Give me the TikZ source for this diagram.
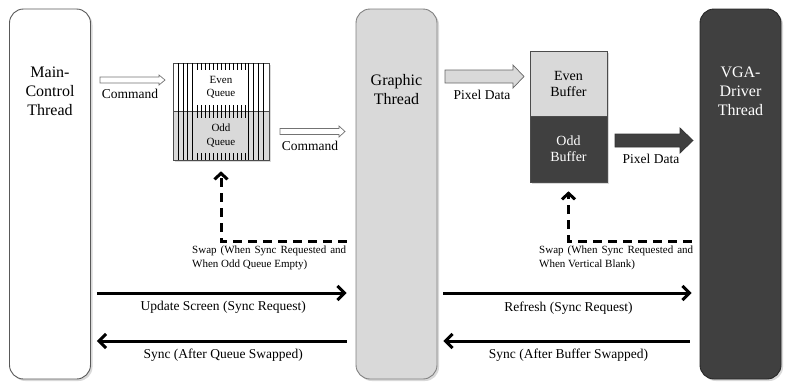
\documentclass[tikz,border=0pt]{standalone}
\usepackage{fontspec}
\setmainfont{Liberation Serif}
\usetikzlibrary{positioning,shadows,arrows.meta}
\definecolor{darkfill}{HTML}{404040}
\definecolor{lightfill}{HTML}{D9D9D9}

\begin{document}
\begin{tikzpicture}[x=1pt,y=-1pt,
        thread/.style={draw=#1, rounded corners=14pt, line width=0.9pt, minimum width=81pt, minimum height=370pt,
            drop shadow={shadow xshift=2pt,shadow yshift=-2pt,opacity=.3}},
        threadtext/.style={font=\fontsize{16}{19}\selectfont, align=center},
        half/.style={draw=black!70, line width=0.6pt, inner sep=0pt, align=center,
            drop shadow={shadow xshift=2pt,shadow yshift=-2pt,opacity=.3}},
        cmdarrow/.style={draw=black!55, fill=white, line width=0.7pt, line join=miter},
        pixarrow/.style={draw=black!60, line width=0.7pt, line join=miter},
        lbl/.style={font=\fontsize{13.5}{16}\selectfont, inner sep=0pt},
        swaplbl/.style={font=\fontsize{11}{14}\selectfont, text width=154pt, align=justify, inner sep=0pt},
        syncarrow/.style={line width=3pt, -{Straight Barb[length=7pt,width=14pt]}},
        swaparrow/.style={line width=3pt, dash pattern=on 9pt off 6pt, -{Straight Barb[length=6pt,width=13pt]}}]

    \useasboundingbox (0,0) rectangle (785,381);

    % threads
    \node[thread=black!65, fill=white] (main) at (50,194) {};
    \node[thread=black!50, fill=lightfill] (graphic) at (396.5,194) {};
    \node[thread=black!85, fill=darkfill] (vga) at (740.5,194) {};
    \node[threadtext] (maintxt) at (50,91) {Main-\\Control\\Thread};
    \node[threadtext] (graphictxt) at (396.5,90) {Graphic\\Thread};
    \node[threadtext, text=white] (vgatxt) at (740.5,91) {VGA-\\Driver\\Thread};

    % queues
    \node[half, fill=white, minimum width=96pt, minimum height=48.5pt, font=\fontsize{11}{13.5}\selectfont] (evenq) at (221,87.25) {Even\\Queue};
    \node[half, fill=lightfill, minimum width=96pt, minimum height=48.5pt, font=\fontsize{11}{13.5}\selectfont] (oddq) at (221,135.75) {Odd\\Queue};
    \foreach \x in {178,183,187,192,248,253,258,263}
        \draw[line width=0.6pt] (\x,63) -- (\x,160);
    \foreach \k in {0,...,12} {
        \draw[line width=0.6pt] (197+4*\k,63) -- ++(0,7);
        \draw[line width=0.6pt] (197+4*\k,105) -- ++(0,13);
        \draw[line width=0.6pt] (197+4*\k,153) -- ++(0,7);
    }

    % buffers
    \node[half, fill=lightfill, minimum width=77pt, minimum height=65pt, font=\fontsize{14}{16}\selectfont] (evenb) at (568.5,83.5) {Even\\Buffer};
    \node[half, fill=darkfill, text=white, minimum width=77pt, minimum height=66pt, font=\fontsize{14}{16}\selectfont] (oddb) at (568.5,149) {Odd\\Buffer};

    % data arrows
    \draw[cmdarrow] (100,77) -- (159,77) -- (159,75) -- (165,80) -- (159,85) -- (159,83) -- (100,83) -- cycle;
    \node[lbl] (cmdatxt) at (130,94) {Command};
    \draw[cmdarrow] (280,128.5) -- (339,128.5) -- (339,126) -- (345,131.5) -- (339,137) -- (339,134.5) -- (280,134.5) -- cycle;
    \node[lbl] (cmdbtxt) at (310,146) {Command};
    \draw[pixarrow, fill=lightfill] (445,70) -- (513,70) -- (513,65) -- (524,76.5) -- (513,88) -- (513,83) -- (445,83) -- cycle;
    \node[lbl] (pixatxt) at (482,95) {Pixel Data};
    \draw[pixarrow, fill=darkfill, draw=black!80] (615,134) -- (680,134) -- (680,128) -- (693,140.5) -- (680,153) -- (680,147) -- (615,147) -- cycle;
    \node[lbl] (pixbtxt) at (651,159) {Pixel Data};

    % swap requests
    \draw[swaparrow, shorten <=9pt, shorten >=11pt] (graphic.west |- 0,241) -| (oddq.south);
    \node[swaplbl, anchor=north west] (swapq) at (192,246) {Swap (When Sync Requested and\linebreak When Odd Queue Empty)};
    \draw[swaparrow, shorten <=8pt, shorten >=9pt] (vga.west |- 0,241) -| (oddb.south);
    \node[swaplbl, anchor=north west] (swapb) at (539,246) {Swap (When Sync Requested and\linebreak When Vertical Blank)};

    % sync handshakes
    \draw[syncarrow, shorten <=6pt, shorten >=9pt] (main.east |- 0,293) to node[lbl, below=7pt] {Update Screen (Sync Request)} (graphic.west |- 0,293);
    \draw[syncarrow, shorten <=9pt, shorten >=6pt] (graphic.west |- 0,341) to node[lbl, below=6pt] {Sync (After Queue Swapped)} (main.east |- 0,341);
    \draw[syncarrow, shorten <=6pt, shorten >=8pt] (graphic.east |- 0,293) to node[lbl, below=7pt] {Refresh (Sync Request)} (vga.west |- 0,293);
    \draw[syncarrow, shorten <=10pt, shorten >=6pt] (vga.west |- 0,341) to node[lbl, below=6pt] {Sync (After Buffer Swapped)} (graphic.east |- 0,341);
\end{tikzpicture}
\end{document}
